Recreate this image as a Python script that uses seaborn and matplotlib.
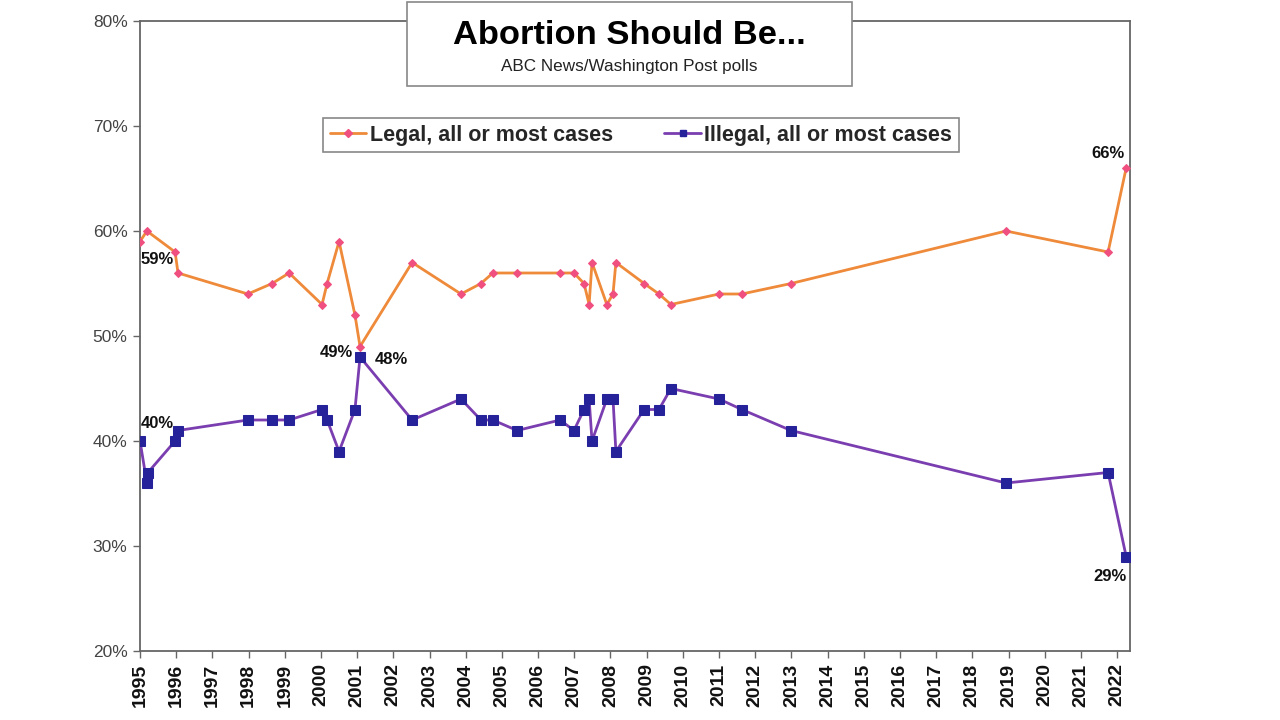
import matplotlib
matplotlib.use("Agg")
import matplotlib.pyplot as plt
import seaborn as sns
import numpy as np
from matplotlib.patches import Rectangle
from matplotlib.ticker import FuncFormatter, FixedLocator
from matplotlib.lines import Line2D

# ---- data ----
legal_years = [1995.00, 1995.19, 1995.97, 1996.05, 1997.98, 1998.65, 1999.12, 2000.03, 2000.17,
               2000.50, 2000.94, 2001.08, 2002.52, 2003.87, 2004.42, 2004.75, 2005.42, 2006.61,
               2006.99, 2007.27, 2007.41, 2007.49, 2007.90, 2008.07, 2008.15, 2008.93, 2009.34,
               2009.67, 2011.00, 2011.63, 2012.99, 2018.93, 2021.75, 2022.25]
legal_values = [59, 60, 58, 56, 54, 55, 56, 53, 55, 59, 52, 49, 57, 54, 55, 56, 56, 56, 56, 55,
                53, 57, 53, 54, 57, 55, 54, 53, 54, 54, 55, 60, 58, 66]

illegal_years = [1995.00, 1995.19, 1995.22, 1995.97, 1996.05, 1997.98, 1998.65, 1999.12, 2000.03,
                 2000.17, 2000.50, 2000.94, 2001.08, 2002.52, 2003.87, 2004.42, 2004.75, 2005.42,
                 2006.61, 2006.99, 2007.27, 2007.41, 2007.49, 2007.90, 2008.07, 2008.15, 2008.93,
                 2009.34, 2009.67, 2011.00, 2011.63, 2012.99, 2018.93, 2021.75, 2022.25]
illegal_values = [40, 36, 37, 40, 41, 42, 42, 42, 43, 42, 39, 43, 48, 42, 44, 42, 42, 41, 42, 41,
                  43, 44, 40, 44, 44, 39, 43, 43, 45, 44, 43, 41, 36, 37, 29]

year_ticks = list(range(1995, 2023))
y_ticks = [20, 30, 40, 50, 60, 70, 80]

series_names = ["Legal, all or most cases", "Illegal, all or most cases"]

# labels: (series, index, text, dx_px, dy_px)
labels = [
    ("legal", 0, "59%", 17, -18),
    ("illegal", 0, "40%", 17, 18),
    ("legal", 11, "49%", -24, -6),
    ("illegal", 12, "48%", 31, -2),
    ("legal", 33, "66%", -18, 14),
    ("illegal", 34, "29%", -16, -20),
]

# ---- style ----
sns.set_style("white")
plt.rcParams["font.family"] = ["Liberation Sans", "DejaVu Sans"]

fig = plt.figure(figsize=(12.8, 7.2), dpi=100)
fig.patch.set_facecolor("white")
ax = fig.add_axes([140 / 1280, 1 - 651 / 720, (1130 - 140) / 1280, (651 - 21) / 720])

legal_line = "#EE8A3A"
legal_marker = "#F0507F"
illegal_line = "#7A3EB0"
illegal_marker = "#26229A"

sns.lineplot(x=legal_years, y=legal_values, ax=ax, sort=False, estimator=None,
             color=legal_line, linewidth=2.0, marker="D", markersize=4.5,
             markerfacecolor=legal_marker, markeredgecolor=legal_marker, zorder=3)
sns.lineplot(x=illegal_years, y=illegal_values, ax=ax, sort=False, estimator=None,
             color=illegal_line, linewidth=2.0, marker="s", markersize=6.5,
             markerfacecolor=illegal_marker, markeredgecolor=illegal_marker, zorder=3)

ax.set_xlim(1995, 1995 + (1130 - 140) / 36.19)
ax.set_ylim(20, 80)
ax.set_xticks(year_ticks)
ax.set_xticklabels([str(y) for y in year_ticks], rotation=90, fontsize=14,
                   fontweight="bold", color="#111111")
ax.set_yticks(y_ticks)
ax.yaxis.set_major_formatter(FuncFormatter(lambda v, p: f"{int(v)}%"))
for t in ax.get_yticklabels():
    t.set_fontsize(12.5)
    t.set_color("#444444")
ax.tick_params(axis="both", which="major", direction="out", length=5, width=1,
               color="#666666", bottom=True, left=True, pad=4)
for s in ax.spines.values():
    s.set_color("#666666")
    s.set_linewidth(1.3)
ax.set_xlabel("")
ax.set_ylabel("")
ax.grid(False)

# data labels
data = {"legal": (legal_years, legal_values), "illegal": (illegal_years, illegal_values)}
for ser, idx, txt, dx, dy in labels:
    xs, ys = data[ser]
    ax.annotate(txt, xy=(xs[idx], ys[idx]), xytext=(dx, dy), textcoords="offset pixels",
                ha="center", va="center", fontsize=12, fontweight="bold", color="#111111",
                zorder=5)

# legend
handles = [
    Line2D([0], [0], color=legal_line, lw=2, marker="D", markersize=4,
           markerfacecolor=legal_marker, markeredgecolor=legal_marker),
    Line2D([0], [0], color=illegal_line, lw=2, marker="s", markersize=5,
           markerfacecolor=illegal_marker, markeredgecolor=illegal_marker),
]
leg = fig.legend(handles, series_names, loc="center", bbox_to_anchor=(641 / 1280, 1 - 135 / 720),
                 ncol=2, frameon=True, fancybox=False, framealpha=1, edgecolor="#888888",
                 prop={"weight": "bold", "size": 15.5}, handlelength=1.7, handletextpad=0.15,
                 columnspacing=2.4, borderpad=0.3, borderaxespad=0)
leg.get_frame().set_linewidth(1.2)

# title box
rect = Rectangle((407 / 1280, 1 - 86 / 720), (852 - 407) / 1280, (86 - 2) / 720,
                 transform=fig.transFigure, facecolor="white", edgecolor="#888888",
                 linewidth=1.2, zorder=10)
fig.add_artist(rect)
fig.text(629 / 1280, 1 - 36 / 720, "Abortion Should Be...", ha="center", va="center",
         fontsize=24.8, fontweight="bold", color="#000000", zorder=11)
fig.text(629 / 1280, 1 - 66 / 720, "ABC News/Washington Post polls", ha="center", va="center",
         fontsize=12.3, color="#222222", zorder=11)

fig.savefig("out.png", dpi=100, facecolor="white")
